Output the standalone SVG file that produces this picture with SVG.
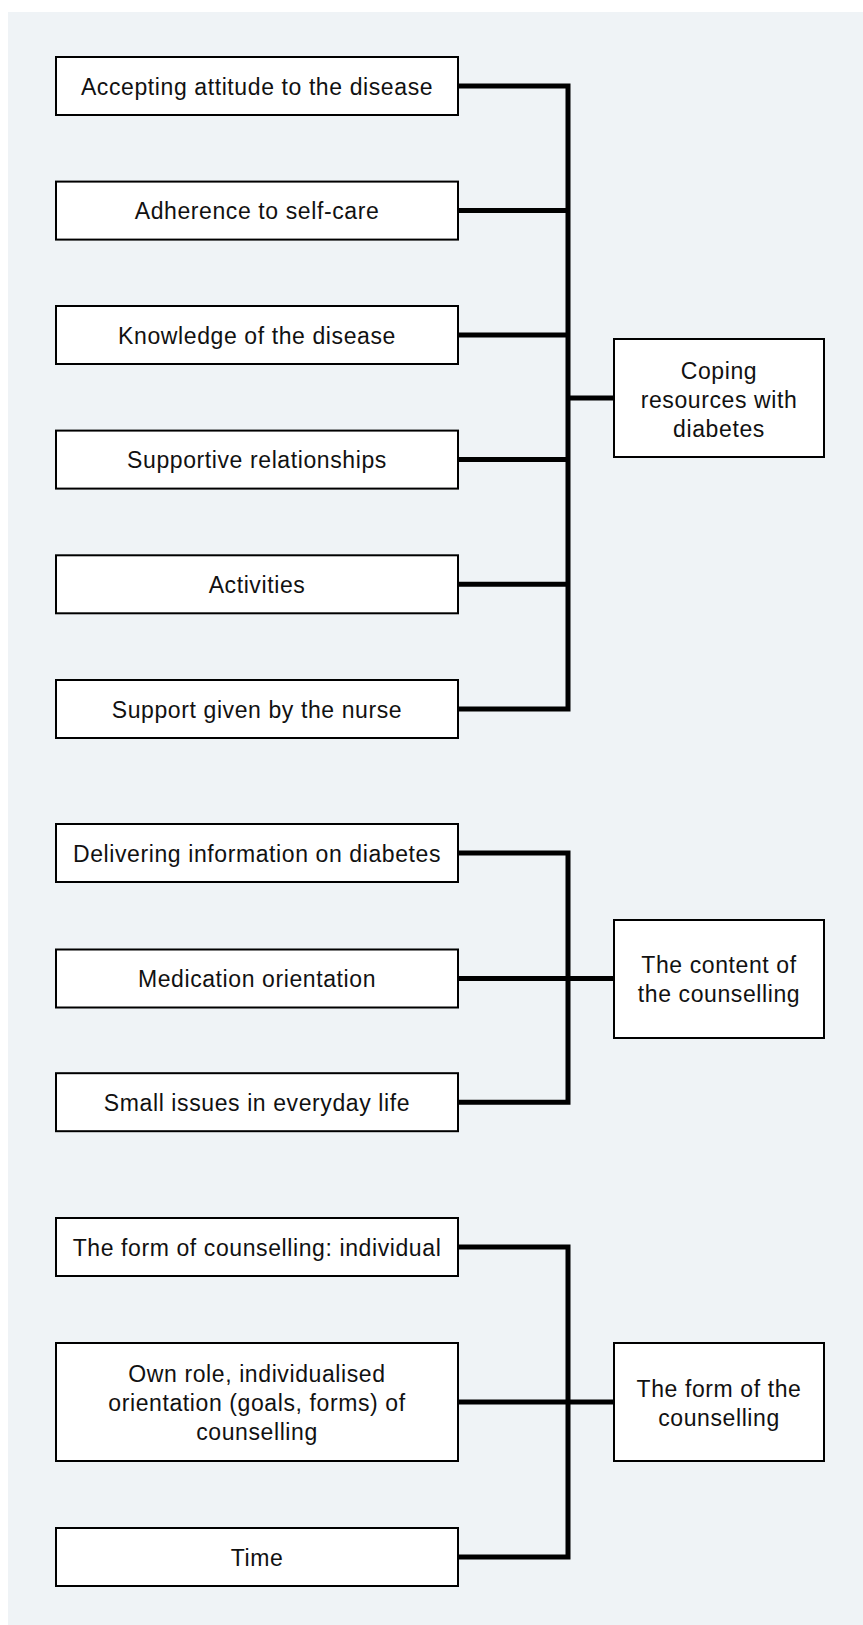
<svg xmlns="http://www.w3.org/2000/svg" width="863" height="1625" viewBox="0 0 863 1625">
<style>
.bg{fill:#eff3f6}
.box{fill:#fff;stroke:#000;stroke-width:2}
.t{font-family:"Liberation Sans",Arial,sans-serif;font-size:23px;letter-spacing:0.6px;fill:#111;text-anchor:middle}
.c{fill:none;stroke:#000;stroke-width:5;stroke-linejoin:miter;stroke-linecap:butt}
</style>
<rect class="bg" x="8" y="12" width="855" height="1613"/>
<g id="connectors">
<path class="c" d="M458 86H568M458 210.6H568M458 335H568M458 459.6H568M458 584.3H568M458 709H568M568 83.5V711.5M568 398H614"/>
<path class="c" d="M458 853H568M458 978.5H568M458 1102.2H568M568 850.5V1104.7M568 978.5H614"/>
<path class="c" d="M458 1247H568M458 1402H568M458 1557H568M568 1244.5V1559.5M568 1402H614"/>
</g>
<g id="n1"><rect class="box" x="56" y="57" width="402" height="58"/><text class="t" x="257" y="94.5">Accepting attitude to the disease</text></g>
<g id="n2"><rect class="box" x="56" y="181.6" width="402" height="58"/><text class="t" x="257" y="219.1">Adherence to self-care</text></g>
<g id="n3"><rect class="box" x="56" y="306" width="402" height="58"/><text class="t" x="257" y="343.5">Knowledge of the disease</text></g>
<g id="n4"><rect class="box" x="56" y="430.6" width="402" height="58"/><text class="t" x="257" y="468.1">Supportive relationships</text></g>
<g id="n5"><rect class="box" x="56" y="555.3" width="402" height="58"/><text class="t" x="257" y="592.8">Activities</text></g>
<g id="n6"><rect class="box" x="56" y="680" width="402" height="58"/><text class="t" x="257" y="717.5">Support given by the nurse</text></g>
<g id="r1"><rect class="box" x="614" y="339" width="210" height="118"/><text class="t" x="719" y="378.5">Coping</text><text class="t" x="719" y="407.5">resources with</text><text class="t" x="719" y="436.5">diabetes</text></g>
<g id="n7"><rect class="box" x="56" y="824" width="402" height="58"/><text class="t" x="257" y="861.5">Delivering information on diabetes</text></g>
<g id="n8"><rect class="box" x="56" y="949.5" width="402" height="58"/><text class="t" x="257" y="987">Medication orientation</text></g>
<g id="n9"><rect class="box" x="56" y="1073.2" width="402" height="58"/><text class="t" x="257" y="1110.7">Small issues in everyday life</text></g>
<g id="r2"><rect class="box" x="614" y="920" width="210" height="118"/><text class="t" x="719" y="973">The content of</text><text class="t" x="719" y="1002">the counselling</text></g>
<g id="n10"><rect class="box" x="56" y="1218" width="402" height="58"/><text class="t" x="257" y="1255.5">The form of counselling: individual</text></g>
<g id="n11"><rect class="box" x="56" y="1343" width="402" height="118"/><text class="t" x="257" y="1382">Own role, individualised</text><text class="t" x="257" y="1411">orientation (goals, forms) of</text><text class="t" x="257" y="1440">counselling</text></g>
<g id="n12"><rect class="box" x="56" y="1528" width="402" height="58"/><text class="t" x="257" y="1565.5">Time</text></g>
<g id="r3"><rect class="box" x="614" y="1343" width="210" height="118"/><text class="t" x="719" y="1396.5">The form of the</text><text class="t" x="719" y="1425.5">counselling</text></g>
</svg>
